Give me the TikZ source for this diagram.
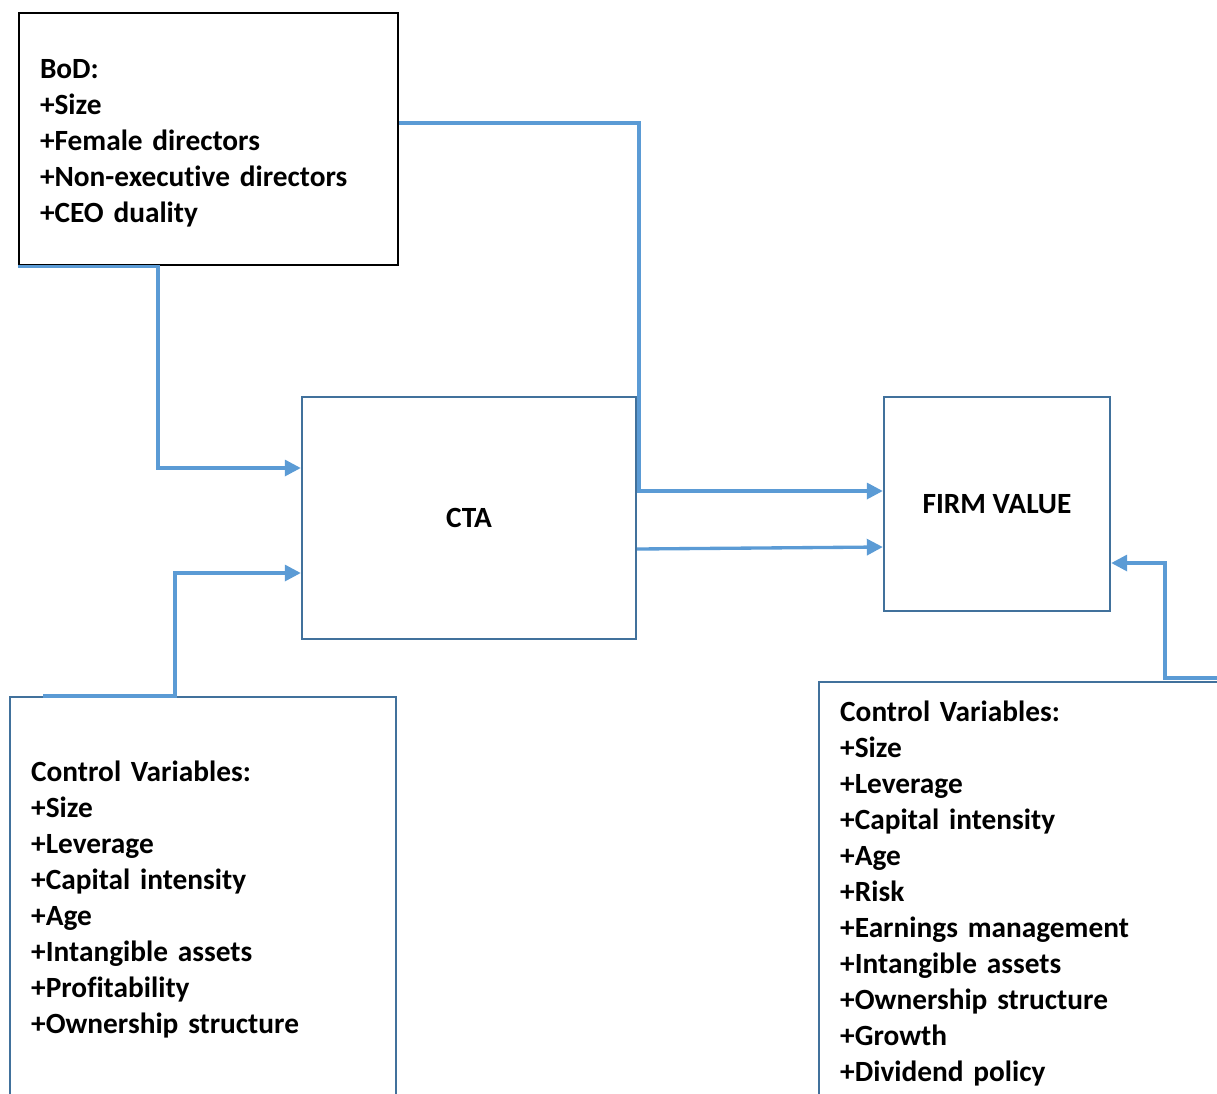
\documentclass[tikz,border=0pt]{standalone}
\usepackage{fontspec}
\setmainfont{Carlito}[Ligatures=NoCommon]
\usepackage{tikz}
\usetikzlibrary {arrows.meta,
                 positioning}
\definecolor{linkblue}{HTML}{5B9BD5}
\definecolor{edgeblue}{HTML}{41719C}
\tikzset{
        base/.style={draw, line width=1.8pt, align=left,
                     font=\fontsize{22}{27}\selectfont\bfseries},
        bodbox/.style={base, draw=black, minimum width=284.25pt,
                       minimum height=189pt, text width=252.75pt,
                       inner xsep=15.75pt},
        mainbox/.style={base, draw=edgeblue, align=center},
        ctrl/.style={base, draw=edgeblue, anchor=north west,
                     inner xsep=15.75pt},
        myarrow/.style={-{Triangle[length=12pt, width=12pt]},
                        draw=linkblue, line width=2.5pt},
 }

\begin{document}
\begin{tikzpicture}[x=0.75pt, y=-0.75pt]
    \useasboundingbox (0,0) rectangle (1217,1093);
    \clip (0,0) rectangle (1217,1093);

    \node[bodbox] (bod) at (208.5,139) {\rule{0pt}{21pt}BoD:\\+Size\\+Female directors\\+Non-executive directors\\+CEO duality};
    \node[mainbox, minimum width=250.5pt, minimum height=181.5pt] (cta) at (469,518) {CTA};
    \node[mainbox, minimum width=169.5pt, minimum height=160.5pt] (firm) at (997,504) {FIRM VALUE};
    \node[ctrl, text width=258pt, inner ysep=48pt] (ctrll) at (9,696)
        {Control Variables:\\+Size\\+Leverage\\+Capital intensity\\+Age\\+Intangible assets\\+Profitability\\+Ownership structure};
    \node[ctrl, text width=300pt, inner ysep=13.8pt] (ctrlr) at (818,681)
        {Control Variables:\\+Size\\+Leverage\\+Capital intensity\\+Age\\+Risk\\+Earnings management\\+Intangible assets\\+Ownership structure\\+Growth\\+Dividend policy};

    \coordinate (j1) at (639,491);
    \coordinate (k1) at (158,468);
    \coordinate (l1) at (175,573);
    \coordinate (r0) at (1230,678);
    \coordinate (r1) at (1165,563);

    \draw[myarrow] ([yshift=12pt]bod.east) -| (j1) -- (j1 -| firm.west);
    \draw[myarrow] (bod.south west) -| (k1) -- (k1 -| cta.west);
    \draw[myarrow] ([yshift=-23.25pt]cta.east) -- ([yshift=-32.25pt]firm.west);
    \draw[myarrow] (ctrll.north west) ++(34,0) -| (l1) -- (l1 -| cta.west);
    \draw[myarrow] (r0) -| (r1) -- (r1 -| firm.east);
\end{tikzpicture}
\end{document}
